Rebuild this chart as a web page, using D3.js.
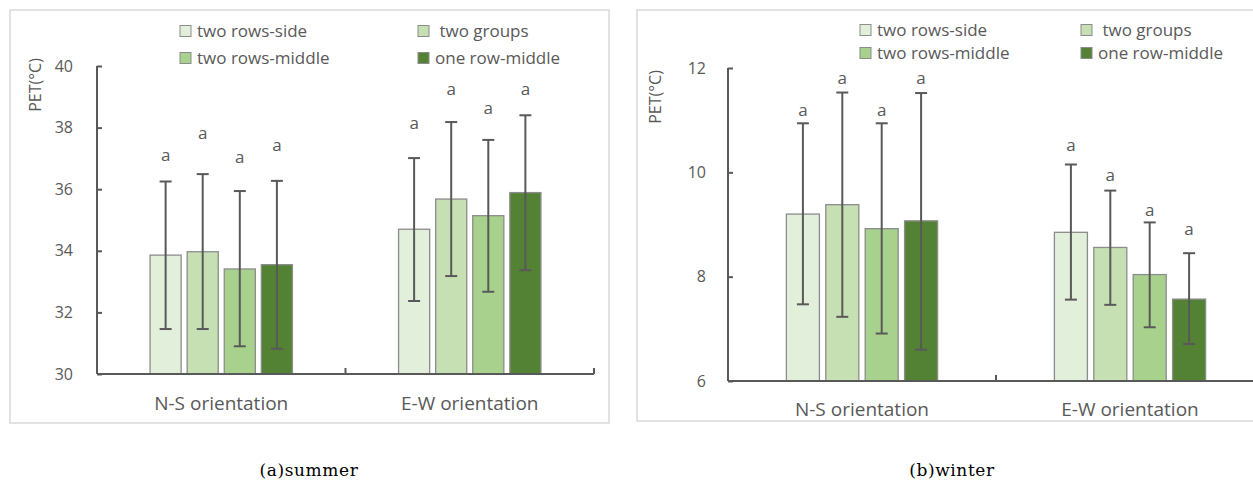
<!DOCTYPE html>
<html><head><meta charset="utf-8">
<script src="https://cdn.jsdelivr.net/npm/d3@7"></script>
<style>
body{margin:0;background:#fff;}
text{font-family:"Open Sans",sans-serif;fill:#595959;}
</style></head>
<body><svg id="c" width="1253" height="481"></svg>
<script>
const categories = ["N-S orientation", "E-W orientation"];
const seriesNames = ["two rows-side", " two groups", "two rows-middle", "one row-middle"];
const seriesColors = ["#E2EFDA", "#C6E0B4", "#A9D18E", "#548235"];

// summer: [series][category]
const summerMean  = [[33.86, 34.70], [33.97, 35.68], [33.41, 35.14], [33.55, 35.89]];
const summerUpper = [[36.25, 37.01], [36.49, 38.18], [35.94, 37.60], [36.27, 38.40]];
const summerLower = [[31.46, 32.37], [31.46, 33.18], [30.90, 32.67], [30.82, 33.37]];
const summerLabelAt = [[37.11, 38.16], [37.82, 39.24], [37.05, 38.62], [37.44, 39.24]];
const summerTicks = [30, 32, 34, 36, 38, 40];

// winter
const winterMean  = [[9.20, 8.85], [9.38, 8.56], [8.92, 8.04], [9.07, 7.57]];
const winterUpper = [[10.94, 10.15], [11.53, 9.65], [10.94, 9.04], [11.52, 8.45]];
const winterLower = [[7.47, 7.56], [7.23, 7.46], [6.91, 7.03], [6.60, 6.71]];
const winterLabelAt = [[11.19, 10.52], [11.80, 9.95], [11.19, 9.28], [11.80, 8.91]];
const winterTicks = [6, 8, 10, 12];

const sigLabel = "a";
const yTitle = "PET(°C)";
const captions = ["(a)summer", "(b)winter"];

const svg = d3.select("#c");

function panel(cfg) {
  const g = svg.append("g");
  g.append("rect").attr("x", cfg.frame[0]).attr("y", cfg.frame[1])
    .attr("width", cfg.frame[2] - cfg.frame[0]).attr("height", cfg.frame[3] - cfg.frame[1])
    .attr("fill", "#fff").attr("stroke", "#D9D9D9").attr("stroke-width", 1.5);

  const y = d3.scaleLinear().domain(cfg.domain).range([cfg.y0, cfg.y1]);
  const x0 = d3.scaleBand().domain(categories).range([cfg.xl, cfg.xr]).padding(0);
  const gw = x0.bandwidth() * cfg.groupFrac;
  const x1 = d3.scaleBand().domain(d3.range(4))
    .range([(x0.bandwidth() - gw) / 2, (x0.bandwidth() + gw) / 2])
    .paddingInner(0.162).paddingOuter(0.081);

  const data = [];
  for (let s = 0; s < 4; s++) for (let c = 0; c < 2; c++) {
    data.push({s, c, v: cfg.mean[s][c], hi: cfg.upper[s][c], lo: cfg.lower[s][c], lab: cfg.labelAt[s][c]});
  }
  const cx = d => x0(categories[d.c]) + x1(d.s) + x1.bandwidth() / 2;

  g.selectAll(".bar").data(data).join("rect")
    .attr("x", d => x0(categories[d.c]) + x1(d.s)).attr("width", x1.bandwidth())
    .attr("y", d => y(d.v)).attr("height", d => y(cfg.domain[0]) - y(d.v))
    .attr("fill", d => seriesColors[d.s]).attr("stroke", "#8C8C8C").attr("stroke-width", 1.3);

  const ya = g.append("g").attr("transform", `translate(${cfg.xl},0)`)
    .call(d3.axisRight(y).tickValues(cfg.ticks).tickSize(5).tickFormat(""));
  ya.select(".domain").attr("stroke", "#595959").attr("stroke-width", 2).attr("d", `M0,${cfg.y0}V${cfg.y1}`);
  ya.selectAll("line").attr("stroke", "#595959").attr("stroke-width", 2);
  g.selectAll(".ytl").data(cfg.ticks).join("text")
    .attr("x", cfg.xl - cfg.tickGap).attr("y", d => y(d)).attr("dy", "0.35em")
    .attr("text-anchor", "end").style("font-size", "16px").text(d => d);

  const xa = g.append("g").attr("transform", `translate(0,${cfg.y0})`);
  xa.append("line").attr("x1", cfg.xl).attr("x2", cfg.xr).attr("stroke", "#595959").attr("stroke-width", 2);
  xa.selectAll(".xt").data(categories.slice(1).concat(["end"])).join("line")
    .attr("x1", (d, i) => i < categories.length - 1 ? x0(d) : cfg.xr)
    .attr("x2", (d, i) => i < categories.length - 1 ? x0(d) : cfg.xr)
    .attr("y1", 0).attr("y2", -6).attr("stroke", "#595959").attr("stroke-width", 2);
  g.selectAll(".xl").data(categories).join("text")
    .attr("x", d => x0(d) + x0.bandwidth() / 2).attr("y", cfg.catY)
    .attr("text-anchor", "middle").style("font-size", "19px").text(d => d);

  const eb = g.selectAll(".eb").data(data).join("g");
  eb.append("line").attr("x1", cx).attr("x2", cx).attr("y1", d => y(d.hi)).attr("y2", d => y(d.lo))
    .attr("stroke", "#595959").attr("stroke-width", 2);
  eb.append("line").attr("x1", d => cx(d) - 6).attr("x2", d => cx(d) + 6).attr("y1", d => y(d.hi)).attr("y2", d => y(d.hi))
    .attr("stroke", "#595959").attr("stroke-width", 2);
  eb.append("line").attr("x1", d => cx(d) - 6).attr("x2", d => cx(d) + 6).attr("y1", d => y(d.lo)).attr("y2", d => y(d.lo))
    .attr("stroke", "#595959").attr("stroke-width", 2);
  g.selectAll(".sig").data(data).join("text")
    .attr("x", cx).attr("y", d => y(d.lab)).attr("dy", "0.35em")
    .attr("text-anchor", "middle").style("font-size", "17px").text(sigLabel);

  g.append("text").attr("transform", `translate(${cfg.titleX},${cfg.titleY}) rotate(-90)`)
    .attr("dy", "0.35em").attr("text-anchor", "middle").style("font-size", "16px").text(yTitle);

  const lg = g.selectAll(".lg").data(seriesNames).join("g")
    .attr("transform", (d, i) => `translate(${cfg.legX[i % 2]},${cfg.legY[Math.floor(i / 2)]})`);
  lg.append("rect").attr("x", 0).attr("y", -5.5).attr("width", 11).attr("height", 11)
    .attr("fill", (d, i) => seriesColors[i]).attr("stroke", "#8C8C8C").attr("stroke-width", 1);
  lg.append("text").attr("x", 17).attr("dy", "0.35em").style("font-size", "17px")
    .style("white-space", "pre").text(d => d);

  svg.append("text").attr("x", cfg.capX).attr("y", 476).attr("text-anchor", "middle")
    .style("font-family", "'DejaVu Serif', serif").style("font-size", "17px").style("fill", "#000")
    .style("letter-spacing", "0.6px")
    .text(cfg.caption);
}

panel({frame: [10, 10, 609, 423], domain: [30, 40], y0: 374, y1: 66, xl: 97, xr: 594,
  groupFrac: 0.597, mean: summerMean, upper: summerUpper, lower: summerLower, labelAt: summerLabelAt,
  ticks: summerTicks, tickGap: 24, catY: 410, titleX: 35, titleY: 85,
  legX: [180, 418], legY: [31, 58], capX: 309, caption: captions[0]});

panel({frame: [637, 10, 1268, 421], domain: [6, 12], y0: 381, y1: 68, xl: 728, xr: 1264,
  groupFrac: 0.588, mean: winterMean, upper: winterUpper, lower: winterLower, labelAt: winterLabelAt,
  ticks: winterTicks, tickGap: 22, catY: 416, titleX: 655, titleY: 97,
  legX: [860, 1081], legY: [30, 53], capX: 952, caption: captions[1]});
</script></body></html>
